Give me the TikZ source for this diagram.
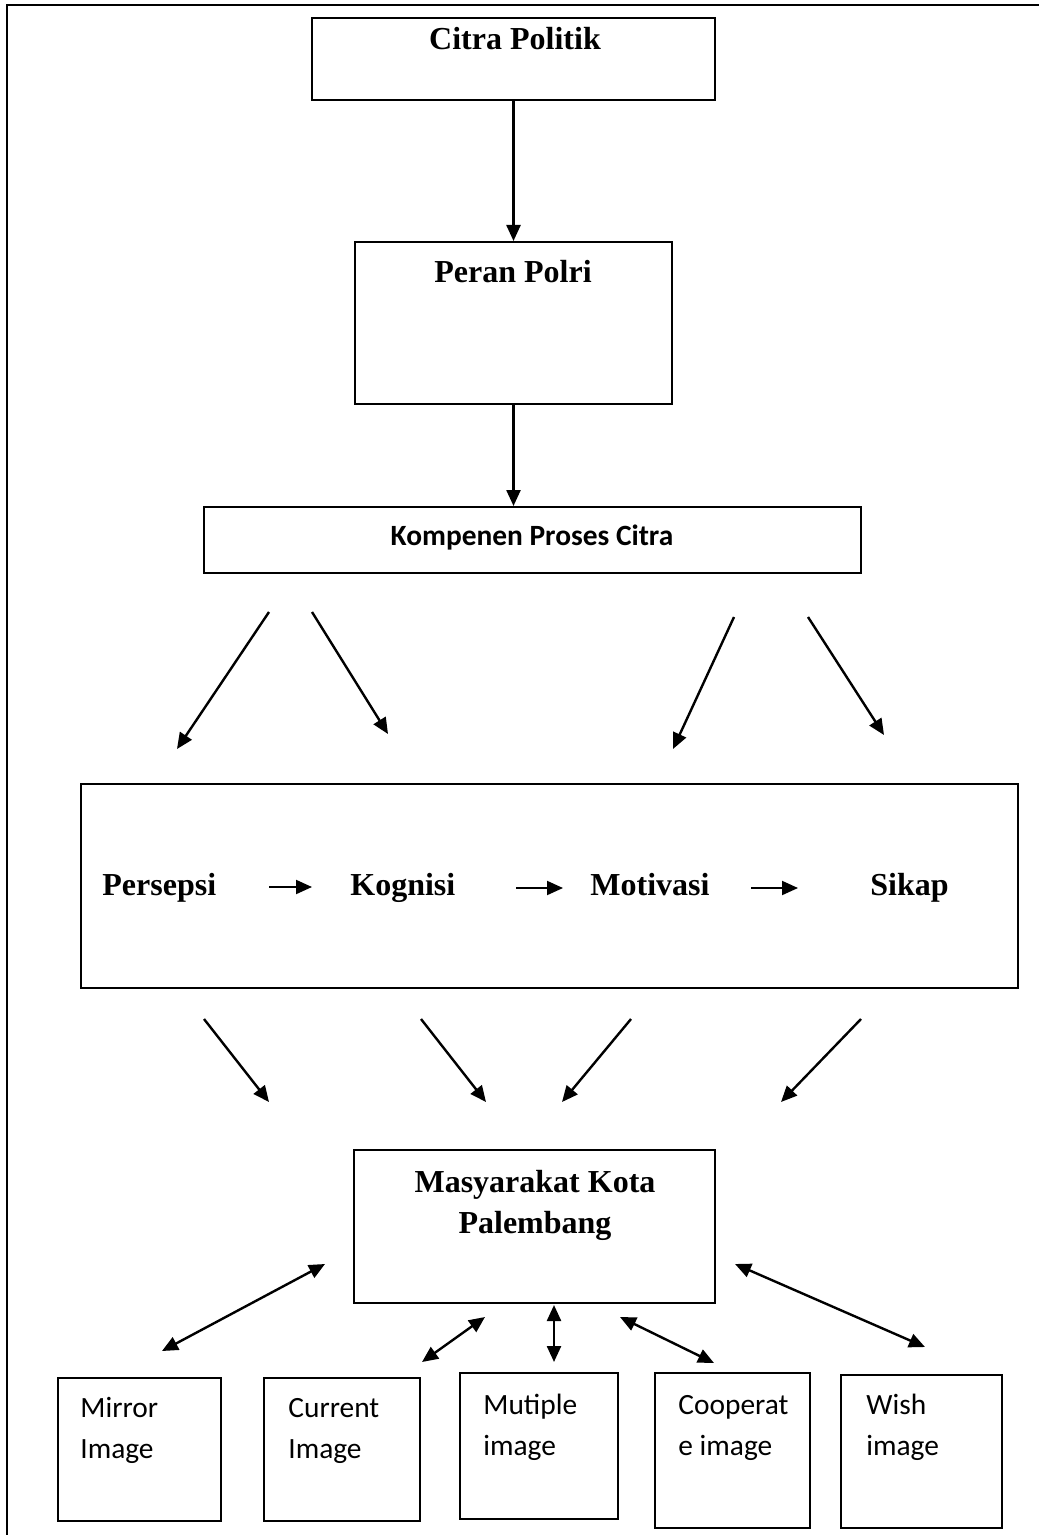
\documentclass[tikz,border=0pt]{standalone}
\usepackage{fontspec}
\setmainfont{Liberation Serif}
\newfontfamily\calibri{Carlito}
\usetikzlibrary{arrows.meta,fit}

\begin{document}
\begin{tikzpicture}[x=0.5pt,y=-0.5pt,
  >={Triangle[length=8pt,width=7pt]},
  box/.style={draw,line width=1pt,inner sep=0pt},
  arr/.style={->,line width=1.2pt},
  darr/.style={<->,line width=1.2pt},
  judul/.style={font=\fontsize{16}{20.5}\selectfont\bfseries,inner sep=0pt,anchor=base,align=center},
  isi/.style={font=\calibri\fontsize{14.7}{20.5}\selectfont,inner sep=0pt,anchor=base west,align=left}]
\useasboundingbox (0,0) rectangle (1038,1535);
% Outer frame
\draw[line width=1.2pt] (7,1560) -- (7,5) -- (1060,5);

% Citra Politik
\node[box,fit={(312,18) (715,100)}] (citra) {};
\node[judul] (citraT) at (515,50) {Citra Politik};

% Peran Polri
\node[box,fit={(355,242) (672,404)}] (peran) {};
\node[judul] (peranT) at (513,283) {Peran Polri};
\draw[arr] (citra.south) -- (peran.north);

% Kompenen Proses Citra
\node[box,fit={(204,507) (861,573)}] (komp) {};
\node[font=\calibri\bfseries\fontsize{14.7}{17}\selectfont,inner sep=0pt,anchor=base] (kompT) at (532,545) {Kompenen Proses Citra};
\draw[arr] (peran.south) -- (peran.south |- komp.north);

% Arrows to the process box
\coordinate (atas1) at (269,612);  \coordinate (bawah1) at (177,749);
\coordinate (atas2) at (312,612);  \coordinate (bawah2) at (388,734);
\coordinate (atas3) at (734,617);  \coordinate (bawah3) at (673,749);
\coordinate (atas4) at (808,617);  \coordinate (bawah4) at (884,735);
\draw[arr] (atas1) -- (bawah1);
\draw[arr] (atas2) -- (bawah2);
\draw[arr] (atas3) -- (bawah3);
\draw[arr] (atas4) -- (bawah4);

% Process box
\node[box,fit={(81,784) (1018,988)}] (proses) {};
\node[judul,anchor=base west] (persepsi) at (102,895) {Persepsi};
\node[judul,anchor=base west] (kognisi) at (350,895) {Kognisi};
\node[judul,anchor=base west] (motivasi) at (590,895) {Motivasi};
\node[judul,anchor=base west] (sikap) at (870,895) {Sikap};
\coordinate (p1) at (269,887);  \coordinate (k1) at (312,887);
\coordinate (p2) at (516,888);  \coordinate (k2) at (563,888);
\coordinate (p3) at (751,888);  \coordinate (k3) at (798,888);
\draw[arr,line width=1pt] (p1) -- (k1);
\draw[arr,line width=1pt] (p2) -- (k2);
\draw[arr,line width=1pt] (p3) -- (k3);

% Arrows to Masyarakat
\coordinate (dari1) at (204,1019);  \coordinate (ke1) at (269,1102);
\coordinate (dari2) at (421,1019);  \coordinate (ke2) at (486,1102);
\coordinate (dari3) at (631,1019);  \coordinate (ke3) at (562,1102);
\coordinate (dari4) at (861,1019);  \coordinate (ke4) at (781,1102);
\draw[arr] (dari1) -- (ke1);
\draw[arr] (dari2) -- (ke2);
\draw[arr] (dari3) -- (ke3);
\draw[arr] (dari4) -- (ke4);

% Masyarakat Kota Palembang
\node[box,fit={(354,1150) (715,1303)}] (masy) {};
\node[judul] (masyT) at (535,1233) {Masyarakat Kota\\Palembang};

% Image boxes
\node[box,fit={(58,1378) (221,1521)}] (mirror) {};
\node[isi] (mirrorT) at (80,1458) {Mirror\\Image};
\node[box,fit={(264,1378) (420,1521)}] (current) {};
\node[isi] (currentT) at (288,1458) {Current\\Image};
\node[box,fit={(460,1373) (618,1519)}] (multiple) {};
\node[isi] (multipleT) at (483,1455) {Mutiple\\image};
\node[box,fit={(655,1373) (810,1528)}] (coop) {};
\node[isi] (coopT) at (678,1455) {Cooperat\\e image};
\node[box,fit={(841,1375) (1002,1528)}] (wish) {};
\node[isi] (wishT) at (866,1455) {Wish\\image};

% Double arrows
\coordinate (m1) at (162,1351);  \coordinate (n1) at (325,1264);
\coordinate (m2) at (422,1362);  \coordinate (n2) at (485,1317);
\coordinate (m3) at (554,1362);  \coordinate (n3) at (554,1305);
\coordinate (m4) at (714,1363);  \coordinate (n4) at (620,1317);
\coordinate (m5) at (925,1347);  \coordinate (n5) at (735,1264);
\draw[darr] (m1) -- (n1);
\draw[darr] (m2) -- (n2);
\draw[darr] (m3) -- (n3);
\draw[darr] (m4) -- (n4);
\draw[darr] (m5) -- (n5);
\end{tikzpicture}
\end{document}
